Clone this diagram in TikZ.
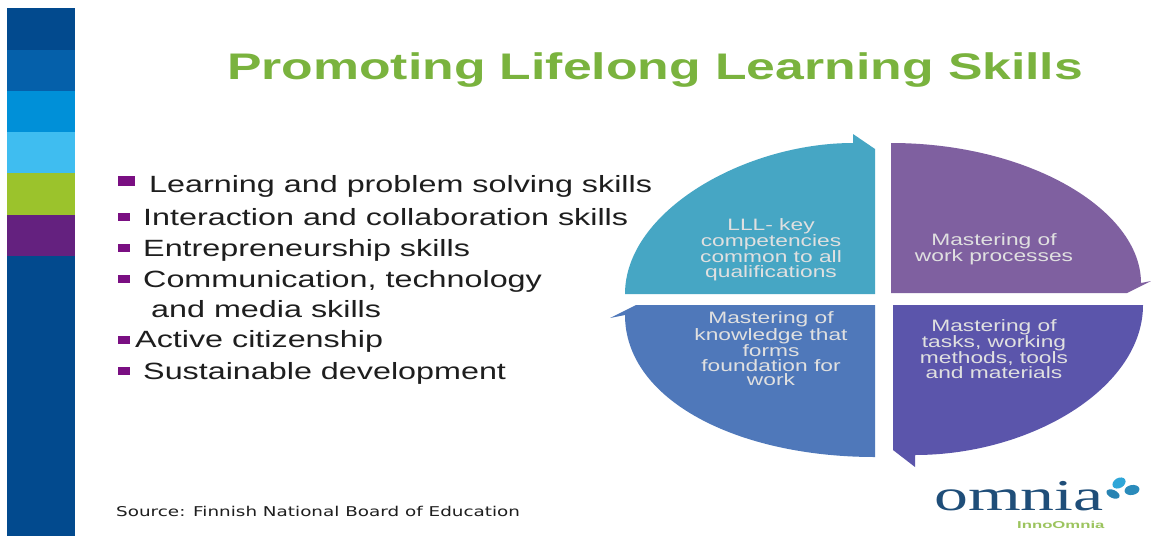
\documentclass[tikz,border=0pt]{standalone}
\usepackage{fontspec}
\setmainfont{Liberation Sans}
\newfontfamily\titlefont[FakeStretch=1.397]{Liberation Sans}
\newfontfamily\skillfont[FakeStretch=1.375]{Liberation Sans}
\newfontfamily\labelfont[FakeStretch=1.38]{Liberation Sans}
\newfontfamily\logofont[FakeStretch=1.54]{Liberation Serif}
\newfontfamily\innofont[FakeStretch=1.67]{Liberation Sans}
\newfontfamily\srcfont[FakeStretch=1.36]{DejaVu Sans}
\definecolor{band1}{HTML}{024A8E}
\definecolor{band2}{HTML}{0560AA}
\definecolor{band3}{HTML}{0090D8}
\definecolor{band4}{HTML}{3FBDF0}
\definecolor{band5}{HTML}{9BC32C}
\definecolor{band6}{HTML}{64217F}
\definecolor{titlegreen}{HTML}{7AB33E}
\definecolor{bulletc}{HTML}{7A0F82}
\definecolor{qtl}{HTML}{46A6C4}
\definecolor{qtr}{HTML}{7F60A0}
\definecolor{qbr}{HTML}{5B55AB}
\definecolor{qbl}{HTML}{4F78BA}
\definecolor{txtc}{HTML}{1E1E1E}
\definecolor{logoblue}{HTML}{1F4E79}
\definecolor{logolight}{HTML}{2FA6D8}
\definecolor{logogreen}{HTML}{9CC45E}
\tikzset{
  x=1pt,y=-1pt,
  band/.style={draw=none},
  skill/.style={anchor=base west,inner sep=0pt,font=\skillfont\fontsize{23.5}{26}\selectfont,text=txtc},
  sq/.style={fill=bulletc,draw=none},
  quad/.style={draw=none},
  qlabel/.style={align=center,inner sep=0pt,text=white!88!black,font=\labelfont\fontsize{16.5}{14.7}\selectfont},
}
\begin{document}
\begin{tikzpicture}
\useasboundingbox (0,0) rectangle (1151,536);
\fill[white] (0,0) rectangle (1151,536);
% sidebar
\fill[band,band1] (7,8) rectangle (75,50);
\fill[band,band2] (7,50) rectangle (75,91);
\fill[band,band3] (7,91) rectangle (75,132);
\fill[band,band4] (7,132) rectangle (75,173);
\fill[band,band5] (7,173) rectangle (75,215);
\fill[band,band6] (7,215) rectangle (75,256);
\fill[band,band1] (7,256) rectangle (75,536);
% title
\node[anchor=base west,inner sep=0pt,font=\titlefont\bfseries\fontsize{37}{40}\selectfont,text=titlegreen] (title) at (227,79) {Promoting Lifelong Learning Skills};
% bullets
\fill[sq] (118,176) rectangle (135,186);
\node[skill] (s1) at (149,192) {Learning and problem solving skills};
\fill[sq] (118,213) rectangle (130,221);
\node[skill] (s2) at (143,225) {Interaction and collaboration skills};
\fill[sq] (118,244) rectangle (130,252);
\node[skill] (s3) at (143,256) {Entrepreneurship skills};
\fill[sq] (118,275) rectangle (130,283);
\node[skill] (s4) at (143,287) {Communication, technology};
\node[skill] (s4b) at (151,317) {and media skills};
\fill[sq] (118,336) rectangle (130,344);
\node[skill] (s5) at (135,347) {Active citizenship};
\fill[sq] (118,367) rectangle (130,375);
\node[skill] (s6) at (143,379) {Sustainable development};
% quadrants
\draw[quad,fill=qtl] (625,294) .. controls (625,211) and (745,143) .. (853,143) -- (853,134) -- (875,149) -- (875,294) -- cycle;
\draw[quad,fill=qtr] (891,143) .. controls (1029,143) and (1141,210) .. (1141,283) -- (1151,281) -- (1127,293) -- (891,293) -- cycle;
\draw[quad,fill=qbr] (893,305) -- (1143,305) .. controls (1143,388) and (1031,455) .. (915,455) -- (915,467) -- (893,450) -- cycle;
\draw[quad,fill=qbl] (875,305) -- (875,457) .. controls (737,457) and (625,400) .. (625,315) -- (610,318) -- (636,305) -- cycle;
% labels
\node[qlabel] (q1) at (771,249.5) {LLL- key\\competencies\\common to all\\qualifications};
\node[qlabel] (q2) at (994,249.5) {Mastering of\\work processes};
\node[qlabel] (q3) at (994,349) {Mastering of\\tasks, working\\methods, tools\\and materials};
\node[qlabel] (q4) at (771,349) {Mastering of\\knowledge that\\forms\\foundation for\\work};
% source
\node[anchor=base west,inner sep=0pt,font=\srcfont\fontsize{13.5}{15}\selectfont,text=txtc] (src) at (116,516) {Source: Finnish National Board of Education};
% logo
\node[anchor=base west,inner sep=0pt,font=\logofont\fontsize{44}{46}\selectfont,text=logoblue] (logo) at (934,510) {omnia};
\node[anchor=base west,inner sep=0pt,font=\innofont\bfseries\fontsize{10}{11}\selectfont,text=logogreen] (inno) at (1017,528) {InnoOmnia};
\fill[logolight,rotate around={30:(1119,483)}] (1119,483) ellipse (7 and 5);
\fill[logolight!70!logoblue,rotate around={10:(1132,490)}] (1132,490) ellipse (7.5 and 5);
\fill[logolight!60!logoblue,rotate around={-25:(1113,494)}] (1113,494) ellipse (7 and 4);
\end{tikzpicture}
\end{document}
